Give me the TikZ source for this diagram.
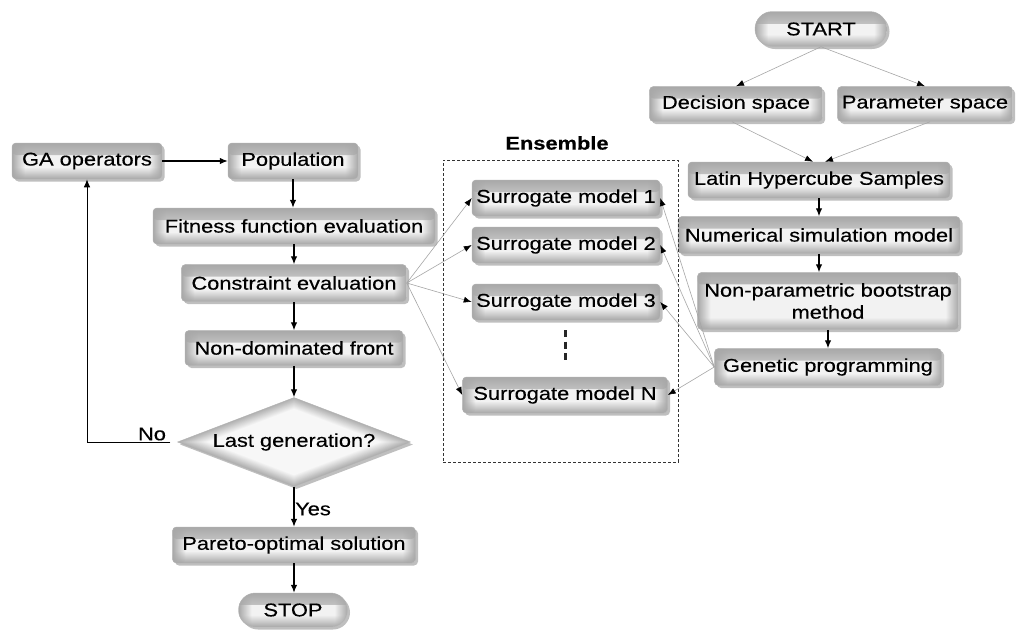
\documentclass[tikz,border=0pt]{standalone}
\usepackage{fontspec}
\setmainfont{Liberation Sans}[FakeStretch=1.18,FakeBold=0.35]
\usetikzlibrary{shapes.geometric,shapes.misc,shadows,arrows.meta,fadings,calc}
\tikzfading[name=fTop, top color=transparent!0, bottom color=transparent!100]
\tikzfading[name=fBot, top color=transparent!100, bottom color=transparent!0]
\tikzfading[name=fLeft, left color=transparent!0, right color=transparent!100]
\tikzfading[name=fRight, left color=transparent!100, right color=transparent!0]
\tikzset{
  pillowfill/.style={fill=gray!10, draw=gray!60, line width=0.5pt,
    drop shadow={shadow xshift=2.5pt, shadow yshift=-2.5pt, fill=black, opacity=0.25},
    path picture={
      \fill[gray!68, path fading=fTop] (path picture bounding box.north west) rectangle ([yshift=-12pt]path picture bounding box.north east);
      \fill[gray!68, path fading=fBot] (path picture bounding box.south west) rectangle ([yshift=12pt]path picture bounding box.south east);
      \fill[gray!68, path fading=fLeft] (path picture bounding box.south west) rectangle ([xshift=13pt]path picture bounding box.north west);
      \fill[gray!68, path fading=fRight] ([xshift=-13pt]path picture bounding box.south east) rectangle (path picture bounding box.north east);
    }},
  txt/.style={font=\fontsize{18.5}{22}\selectfont, text=black},
  box/.style={pillowfill, rectangle, rounded corners=4pt, inner sep=0pt, txt, align=center},
  pill/.style={pillowfill, rounded rectangle, inner sep=0pt, txt},
  dia/.style={diamond, aspect=2.6, inner sep=0pt, draw=gray!60, fill=gray!62, txt,
    drop shadow={shadow xshift=2.5pt, shadow yshift=-2.5pt, fill=black, opacity=0.25},
    path picture={
      \foreach \k in {1,...,14} {
        \pgfmathsetmacro\ps{1-0.018*\k}
        \pgfmathsetmacro\pc{62-4*\k}
        \fill[gray!\pc] ($(path picture bounding box.center)!\ps!(path picture bounding box.north)$)
          -- ($(path picture bounding box.center)!\ps!(path picture bounding box.east)$)
          -- ($(path picture bounding box.center)!\ps!(path picture bounding box.south)$)
          -- ($(path picture bounding box.center)!\ps!(path picture bounding box.west)$) -- cycle;
      }
    }},
  arr/.style={-{Latex[length=8pt,width=6.5pt]}, line width=1.1pt, black},
  fanline/.style={-{Latex[length=8pt,width=6pt,color=black]}, line width=0.6pt, gray!70},
  lbl/.style={txt, inner sep=0pt},
}
\begin{document}
\begin{tikzpicture}[x=1pt,y=-1pt]
\useasboundingbox[fill=white] (0,0) rectangle (1019,630);

% right column
\node[pill, minimum width=132, minimum height=35] (start) at (821,29) {START};
\node[box, minimum width=173, minimum height=35] (dec) at (736,104) {Decision space};
\node[box, minimum width=175, minimum height=35] (par) at (925,104) {Parameter space};
\node[box, minimum width=262, minimum height=36] (lhs) at (819,180) {Latin Hypercube Samples};
\node[box, minimum width=282, minimum height=37] (num) at (819,235) {Numerical simulation model};
\node[box, minimum width=261, minimum height=57] (np) at (828,301) {Non-parametric bootstrap\\method};
\node[box, minimum width=227, minimum height=37] (gp) at (828,367) {Genetic programming};

% left column
\node[box, minimum width=150, minimum height=36] (ga) at (87,161) {GA operators};
\node[box, minimum width=130, minimum height=36] (pop) at (293,161) {Population};
\node[box, minimum width=282, minimum height=36] (fit) at (294,226) {Fitness function evaluation};
\node[box, minimum width=225, minimum height=37] (con) at (294,283) {Constraint evaluation};
\node[box, minimum width=218, minimum height=35] (ndf) at (294,348) {Non-dominated front};
\node[dia, minimum width=233, minimum height=89] (last) at (294,442) {Last generation?};
\node[box, minimum width=243, minimum height=36] (par2) at (294,545) {Pareto-optimal solution};
\node[pill, minimum width=109, minimum height=34] (stop) at (293,610) {STOP};

% ensemble
\node[draw=black!80, dash pattern=on 3pt off 2pt, line width=1pt, minimum width=235, minimum height=302, inner sep=0pt] (ens) at (560.5,311) {};
\node[lbl, font=\fontsize{18.5}{22}\selectfont\bfseries] (enslbl) at (557,143) {Ensemble};
\node[box, minimum width=188, minimum height=36] (sm1) at (566,198) {Surrogate model 1};
\node[box, minimum width=188, minimum height=36] (sm2) at (566,245) {Surrogate model 2};
\node[box, minimum width=188, minimum height=36] (sm3) at (566,302) {Surrogate model 3};
\node[box, minimum width=205, minimum height=36] (smn) at (565,395) {Surrogate model N};
\coordinate (dtop) at (565,330);
\coordinate (dbot) at (565,363);
\draw[line width=3pt, dash pattern=on 7pt off 4.5pt, black!85] (dtop) -- (dbot);

% labels
\node[lbl] (no) at (152,434) {No};
\node[lbl] (yes) at (313,509) {Yes};

% right column connectors
\draw[fanline] (start.south) -- (dec.north);
\draw[fanline] (start.south) -- (par.north);
\draw[fanline] ([xshift=-4pt]dec.south) -- ([xshift=-6pt]lhs.north);
\draw[fanline] ([xshift=5pt]par.south) -- ([xshift=6pt]lhs.north);
\draw[arr] (lhs.south) -- (num.north);
\draw[arr] (num.south) -- (num.south |- np.north);
\draw[arr] (np.south) -- (gp.north);

% left column connectors
\draw[arr] (ga.east) -- (pop.west);
\draw[arr] (pop.south) -- (pop.south |- fit.north);
\draw[arr] (fit.south) -- (con.north);
\draw[arr] (con.south) -- (ndf.north);
\draw[arr] (ndf.south) -- (last.north);
\draw[arr] (last.south) -- (par2.north);
\draw[arr] (par2.south) -- (par2.south |- stop.north);
\draw[arr, line width=0.9pt] ([xshift=-7pt]last.west) -| (ga.south);

% fan connectors
\draw[fanline] (con.east) -- (sm1.west);
\draw[fanline] (con.east) -- (sm2.west);
\draw[fanline] (con.east) -- (sm3.west);
\draw[fanline] (con.east) -- (smn.west);
\draw[fanline] (gp.west) -- (sm1.east);
\draw[fanline] (gp.west) -- (sm2.east);
\draw[fanline] (gp.west) -- (sm3.east);
\draw[fanline] (gp.west) -- (smn.east);
\end{tikzpicture}
\end{document}
